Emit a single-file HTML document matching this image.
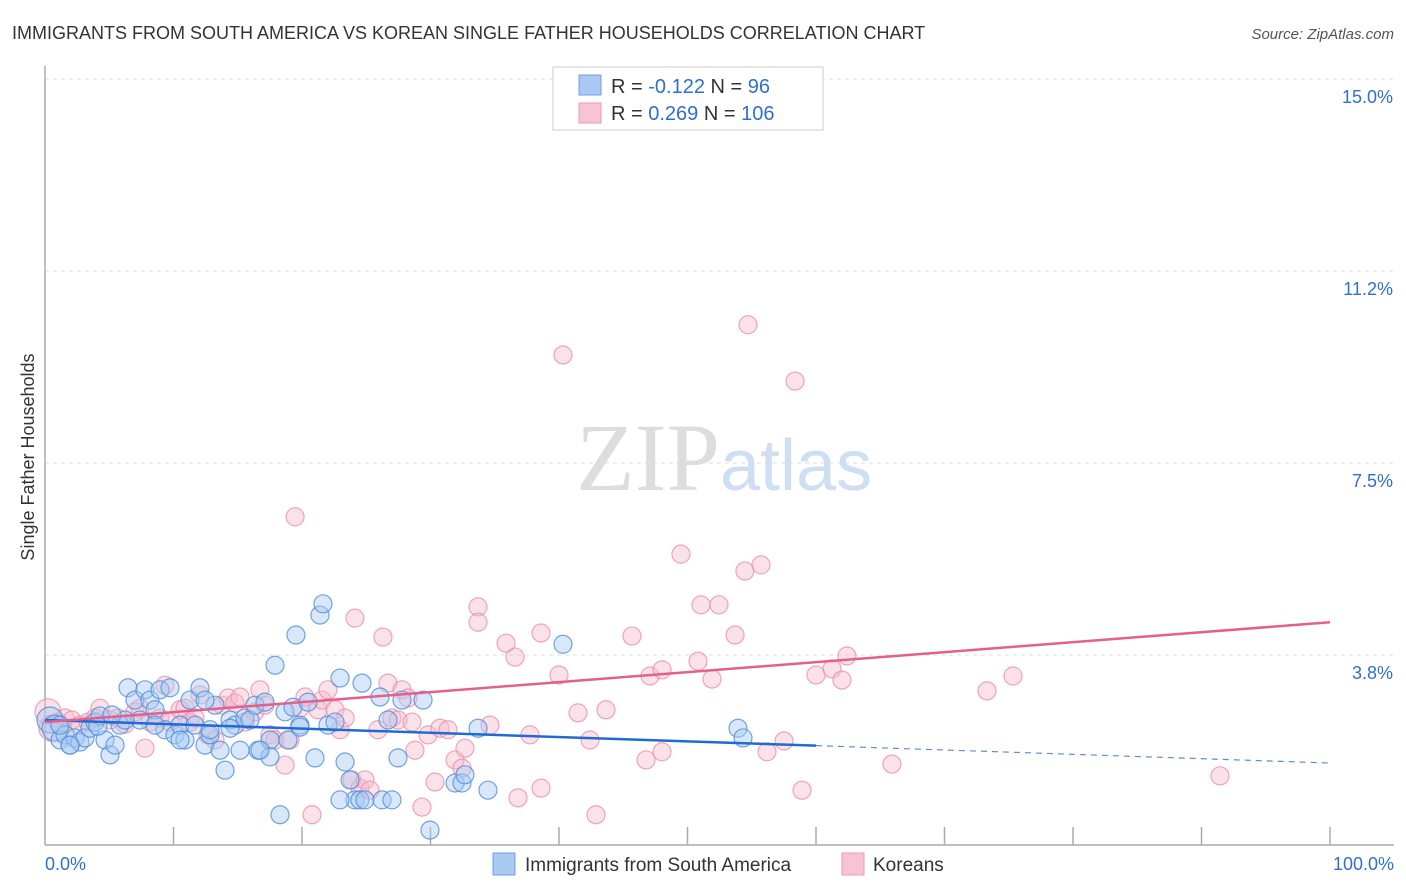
<!DOCTYPE html>
<html><head><meta charset="utf-8"><style>
body{margin:0;background:#fff;font-family:"Liberation Sans",sans-serif;}
svg{display:block}
</style></head><body>
<svg id="chart" width="1406" height="892">
<text x="12" y="39" font-size="18" fill="#333">IMMIGRANTS FROM SOUTH AMERICA VS KOREAN SINGLE FATHER HOUSEHOLDS CORRELATION CHART</text>
<text x="1394" y="39" font-size="15" fill="#555" font-style="italic" text-anchor="end">Source: ZipAtlas.com</text>
<text x="34" y="457" font-size="18" fill="#333" text-anchor="middle" transform="rotate(-90 34 457)">Single Father Households</text>
<g id="grid"></g>
<text x="720" y="490" font-size="96" fill="#ddd" font-family="Liberation Serif" text-anchor="end">ZIP</text>
<text x="720" y="490" font-size="72" fill="#cfdff3">atlas</text>
<g id="pts"></g>
<g id="lines"></g>
<g>
<rect x="553" y="67" width="270" height="63" fill="#fff" stroke="#ccc"/>
<rect x="579" y="75" width="22" height="20" fill="#a9c9f2" stroke="#6f9ee0"/>
<rect x="579" y="103" width="22" height="20" fill="#f8c3d3" stroke="#ec9ab3"/>
<text x="611" y="93" font-size="20" fill="#333">R = <tspan fill="#2f6fd1">-0.122</tspan>   N = <tspan fill="#2f6fd1">  96</tspan></text>
<text x="611" y="120" font-size="20" fill="#333">R = <tspan fill="#2f6fd1"> 0.269</tspan>   N = <tspan fill="#2f6fd1">106</tspan></text>
</g>
<g>
<rect x="493" y="853" width="22" height="22" fill="#a9c9f2" stroke="#6f9ee0"/>
<text x="525" y="871" font-size="19" fill="#333">Immigrants from South America</text>
<rect x="842" y="853" width="22" height="22" fill="#f8c3d3" stroke="#ec9ab3"/>
<text x="873" y="871" font-size="19" fill="#333">Koreans</text>
</g>
<text x="45" y="870" font-size="18" fill="#2f6fd1">0.0%</text>
<text x="1394" y="870" font-size="18" fill="#2f6fd1" text-anchor="end">100.0%</text>
</svg>
<script>
const yTicks=[15.0,11.25,7.5,3.75];
const yTickLabels=["15.0%","11.2%","7.5%","3.8%"];
const bluePx=[[50,720],[55,728],[60,740],[65,735],[70,745],[75,738],[80,742],[85,738],[90,728],[95,722],[100,716],[105,740],[110,755],[115,745],[120,725],[128,688],[135,700],[140,720],[145,690],[150,700],[155,710],[160,690],[165,730],[170,688],[175,735],[180,725],[185,740],[190,700],[195,725],[200,688],[205,745],[210,735],[215,705],[220,750],[225,770],[230,720],[235,725],[240,750],[245,718],[250,720],[255,705],[258,750],[265,702],[270,740],[275,665],[280,815],[285,712],[288,740],[293,707],[296,635],[300,725],[308,702],[315,758],[320,615],[323,604],[328,725],[335,722],[340,678],[345,762],[350,780],[355,800],[360,800],[362,683],[365,800],[380,697],[382,800],[388,720],[392,800],[398,758],[402,700],[423,700],[430,830],[455,783],[462,783],[465,775],[478,728],[488,790],[563,644],[738,728],[743,738],[340,800],[270,757],[260,750],[205,700],[180,740],[155,725],[125,720],[112,715],[60,725],[70,745],[210,730],[98,726],[230,728],[300,727]];
const pinkPx=[[48,712],[52,728],[58,722],[65,718],[72,720],[80,725],[88,722],[95,718],[100,708],[110,720],[118,718],[125,724],[135,712],[140,708],[145,748],[150,722],[160,718],[165,685],[170,722],[180,710],[185,708],[190,722],[195,718],[200,695],[208,735],[215,740],[222,705],[228,698],[235,703],[240,697],[245,722],[255,712],[260,690],[265,705],[270,735],[275,740],[285,765],[290,740],[295,517],[300,708],[305,697],[312,815],[318,710],[322,700],[328,690],[335,710],[340,730],[345,718],[352,780],[355,618],[360,788],[365,780],[370,790],[378,730],[383,637],[388,683],[392,718],[398,720],[402,690],[408,698],[412,722],[415,750],[422,807],[428,735],[435,782],[440,728],[448,730],[455,760],[462,768],[465,748],[478,607],[478,622],[490,725],[506,643],[515,657],[518,798],[530,735],[541,788],[541,633],[559,675],[563,355],[578,713],[590,740],[596,815],[606,710],[632,636],[646,760],[650,676],[662,670],[662,752],[681,554],[698,661],[701,605],[712,679],[719,605],[735,635],[745,571],[748,325],[761,565],[767,752],[784,741],[795,381],[802,790],[816,675],[832,669],[842,680],[847,656],[892,764],[987,691],[1013,676],[1220,776]];
// convert estimated positions into data values (% of x, % of y)
const blueX=bluePx.map(p=>+((p[0]-45)/12.85).toFixed(2));
const blueY=bluePx.map(p=>+((847-p[1])/51.2).toFixed(2));
const pinkX=pinkPx.map(p=>+((p[0]-45)/12.85).toFixed(2));
const pinkY=pinkPx.map(p=>+((847-p[1])/51.2).toFixed(2));
const blueTrend=[[0,2.48],[60,1.98],[100,1.64]];
const pinkTrend=[[0,2.44],[100,4.39]];
function X(v){return 45+v*12.85;}
function Y(v){return 847-v*51.2;}
const NS="http://www.w3.org/2000/svg";
function mk(t,a,parent){const e=document.createElementNS(NS,t);for(const k in a)e.setAttribute(k,a[k]);parent.appendChild(e);return e;}
const grid=document.getElementById('grid');
yTicks.forEach((t,i)=>{
 const l=mk('line',{x1:45,x2:1394,y1:Y(t),y2:Y(t),stroke:'#ddd','stroke-dasharray':'4,4'},grid);
 
 
 const tx=mk('text',{x:1393,y:Y(t)+24,'font-size':18,fill:'#2f6fd1','text-anchor':'end'},grid);
 tx.textContent=yTickLabels[i];
 
 
});
const ax=mk('line',{x1:45,x2:1394,y1:845,y2:845,stroke:'#aaa','stroke-width':1.5},grid);


const ay=mk('line',{x1:45,x2:45,y1:66,y2:845,stroke:'#aaa','stroke-width':1.5},grid);


for(let i=1;i<=10;i++){
 const t=mk('line',{x1:X(i*10),x2:X(i*10),y1:827,y2:845,stroke:'#aaa','stroke-width':1.5},grid);
 
 
}
const pts=document.getElementById('pts');
function drawPts(xs,ys,fill,stroke,name){
 xs.forEach((x,i)=>{
  const c=mk('circle',{cx:X(x),cy:Y(ys[i]),r:i<2?13:9,fill:fill,'fill-opacity':0.45,stroke:stroke,'stroke-width':1.2,'stroke-opacity':0.8},pts);
  
  
 });
}
drawPts(pinkX,pinkY,'#f6bccd','#ec8fae','korean-point');
drawPts(blueX,blueY,'#a9c9f2','#4f8ddc','south-america-point');
const lines=document.getElementById('lines');
const b1=mk('line',{x1:X(blueTrend[0][0]),y1:Y(blueTrend[0][1]),x2:X(blueTrend[1][0]),y2:Y(blueTrend[1][1]),stroke:'#1f6bd6','stroke-width':2.5},lines);


const b2=mk('line',{x1:X(blueTrend[1][0]),y1:Y(blueTrend[1][1]),x2:X(blueTrend[2][0]),y2:Y(blueTrend[2][1]),stroke:'#5b8fd8','stroke-width':1.2,'stroke-dasharray':'6,5'},lines);


const p1=mk('line',{x1:X(pinkTrend[0][0]),y1:Y(pinkTrend[0][1]),x2:X(pinkTrend[1][0]),y2:Y(pinkTrend[1][1]),stroke:'#e4608a','stroke-width':2.5},lines);


</script>
</body></html>
